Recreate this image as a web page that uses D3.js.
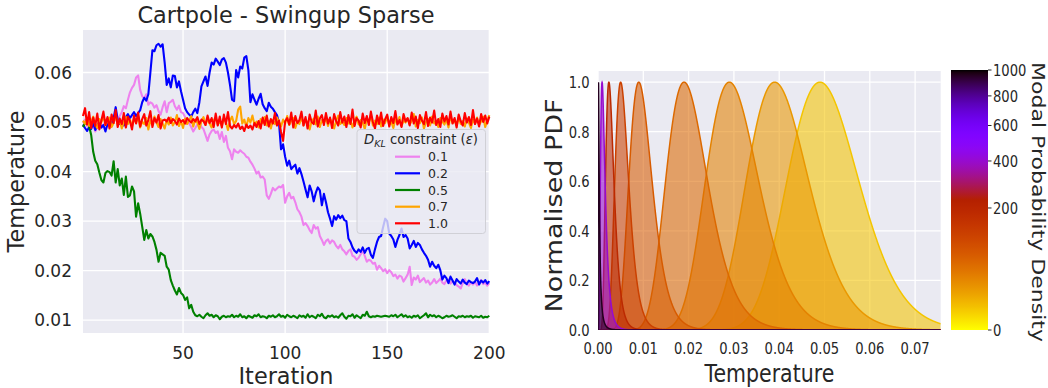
<!DOCTYPE html>
<html>
<head>
<meta charset="utf-8">
<script src="https://cdn.jsdelivr.net/npm/d3@7"></script>
<style>
  body { margin: 0; background: #ffffff; }
  text { font-family: "DejaVu Sans", sans-serif; fill: #262626; }
</style>
</head>
<body>
<svg id="fig" width="1048" height="388"></svg>
<script>
// ---------- Left panel: temperature per iteration for each KL constraint ----------
const iterations = d3.range(1, 201);

const temp_eps01 = [
.0498,.0505,.0492,.0500,.0487,.0495,.0481,.0490,.0497,.0488,.0494,.0502,.0491,.0499,.0505,.0498,.0508,.0503,.0512,.0520,
.0532,.0528,.0545,.0560,.0569,.0575,.0590,.0594,.0565,.0552,.0548,.0556,.0535,.0540,.0537,.0529,.0534,.0522,.0515,.0530,
.0542,.0520,.0538,.0541,.0545,.0532,.0525,.0533,.0520,.0518,.0510,.0501,.0497,.0490,.0481,.0488,.0495,.0499,.0490,.0486,
.0474,.0462,.0475,.0482,.0485,.0478,.0481,.0466,.0480,.0460,.0472,.0448,.0441,.0425,.0445,.0440,.0438,.0443,.0439,.0436,
.0430,.0428,.0420,.0414,.0406,.0396,.0400,.0388,.0390,.0384,.0352,.0345,.0355,.0367,.0362,.0366,.0370,.0368,.0373,.0337,
.0350,.0357,.0346,.0349,.0338,.0324,.0318,.0309,.0292,.0296,.0290,.0282,.0276,.0292,.0285,.0288,.0270,.0262,.0252,.0260,
.0263,.0255,.0261,.0258,.0250,.0245,.0252,.0243,.0239,.0233,.0240,.0243,.0230,.0228,.0222,.0226,.0233,.0240,.0230,.0218,
.0222,.0220,.0214,.0216,.0202,.0210,.0205,.0199,.0203,.0195,.0201,.0197,.0189,.0192,.0184,.0190,.0188,.0178,.0185,.0192,
.0208,.0171,.0186,.0182,.0190,.0177,.0181,.0185,.0176,.0180,.0172,.0176,.0183,.0175,.0179,.0184,.0176,.0173,.0180,.0182,
.0174,.0179,.0176,.0171,.0168,.0164,.0175,.0183,.0173,.0170,.0177,.0172,.0178,.0170,.0174,.0181,.0173,.0176,.0170,.0175
];

const temp_eps02 = [
.0495,.0488,.0482,.0490,.0486,.0498,.0484,.0493,.0500,.0489,.0494,.0481,.0496,.0502,.0497,.0508,.0530,.0505,.0496,.0500,
.0493,.0510,.0516,.0508,.0514,.0520,.0512,.0518,.0524,.0540,.0549,.0543,.0556,.0600,.0645,.0643,.0655,.0658,.0652,.0657,
.0620,.0575,.0588,.0570,.0594,.0593,.0570,.0582,.0562,.0545,.0528,.0520,.0515,.0511,.0520,.0527,.0518,.0540,.0572,.0582,
.0592,.0573,.0600,.0620,.0616,.0628,.0622,.0615,.0626,.0629,.0620,.0600,.0575,.0545,.0542,.0605,.0590,.0612,.0608,.0630,
.0633,.0605,.0540,.0556,.0545,.0535,.0547,.0557,.0536,.0528,.0522,.0539,.0531,.0527,.0520,.0514,.0498,.0445,.0455,.0430,
.0412,.0422,.0405,.0410,.0414,.0396,.0407,.0395,.0380,.0364,.0348,.0372,.0360,.0340,.0357,.0368,.0362,.0332,.0355,.0338,
.0318,.0305,.0290,.0310,.0303,.0312,.0306,.0311,.0302,.0300,.0265,.0258,.0247,.0240,.0236,.0243,.0238,.0247,.0236,.0244,
.0246,.0232,.0226,.0243,.0258,.0268,.0270,.0288,.0305,.0300,.0275,.0270,.0263,.0248,.0262,.0272,.0285,.0268,.0272,.0265,
.0245,.0252,.0260,.0248,.0256,.0252,.0243,.0236,.0230,.0222,.0208,.0218,.0210,.0205,.0212,.0201,.0182,.0190,.0185,.0175,
.0188,.0180,.0172,.0183,.0178,.0174,.0182,.0176,.0173,.0180,.0177,.0175,.0178,.0185,.0172,.0180,.0176,.0181,.0174,.0179
];

const temp_eps05 = [
.0490,.0498,.0505,.0492,.0474,.0440,.0422,.0415,.0398,.0383,.0378,.0397,.0401,.0399,.0392,.0421,.0378,.0405,.0372,.0386,
.0353,.0390,.0349,.0352,.0370,.0360,.0309,.0336,.0315,.0289,.0262,.0282,.0265,.0274,.0269,.0258,.0242,.0218,.0236,.0233,
.0230,.0208,.0202,.0181,.0170,.0160,.0152,.0165,.0155,.0151,.0141,.0146,.0124,.0131,.0117,.0110,.0108,.0111,.0107,.0104,
.0110,.0114,.0109,.0111,.0106,.0110,.0108,.0102,.0107,.0109,.0106,.0108,.0107,.0111,.0106,.0109,.0107,.0112,.0106,.0108,
.0104,.0109,.0107,.0105,.0110,.0108,.0112,.0106,.0108,.0107,.0104,.0109,.0107,.0110,.0106,.0108,.0112,.0107,.0109,.0105,
.0111,.0108,.0106,.0109,.0107,.0104,.0110,.0107,.0109,.0105,.0112,.0106,.0109,.0107,.0104,.0111,.0108,.0113,.0106,.0104,
.0109,.0107,.0110,.0106,.0108,.0105,.0110,.0114,.0107,.0103,.0109,.0108,.0112,.0105,.0110,.0107,.0104,.0111,.0109,.0117,
.0108,.0106,.0108,.0107,.0109,.0108,.0107,.0108,.0109,.0108,.0107,.0110,.0108,.0111,.0106,.0109,.0112,.0107,.0110,.0106,
.0108,.0105,.0109,.0107,.0110,.0104,.0107,.0110,.0114,.0106,.0111,.0108,.0110,.0106,.0109,.0107,.0104,.0106,.0109,.0107,
.0108,.0110,.0107,.0104,.0108,.0107,.0109,.0106,.0108,.0107,.0109,.0105,.0108,.0107,.0106,.0109,.0105,.0107,.0106,.0109
];

const temp_eps07 = [
.0503,.0497,.0508,.0492,.0501,.0511,.0495,.0488,.0506,.0499,.0513,.0494,.0502,.0509,.0490,.0498,.0515,.0493,.0504,.0487,
.0500,.0510,.0496,.0505,.0491,.0507,.0498,.0512,.0489,.0501,.0496,.0508,.0485,.0503,.0494,.0511,.0499,.0490,.0506,.0497,
.0487,.0504,.0495,.0509,.0493,.0500,.0514,.0492,.0502,.0488,.0507,.0496,.0503,.0512,.0491,.0505,.0499,.0486,.0501,.0510,
.0494,.0506,.0497,.0489,.0504,.0508,.0495,.0501,.0492,.0507,.0499,.0484,.0503,.0511,.0496,.0502,.0525,.0531,.0497,.0505,
.0490,.0508,.0499,.0513,.0494,.0501,.0489,.0506,.0498,.0510,.0493,.0502,.0487,.0504,.0496,.0509,.0500,.0491,.0505,.0497,
.0512,.0494,.0503,.0508,.0488,.0501,.0496,.0510,.0493,.0505,.0499,.0485,.0502,.0507,.0495,.0511,.0490,.0504,.0498,.0509,
.0492,.0506,.0500,.0487,.0503,.0513,.0496,.0501,.0494,.0508,.0497,.0505,.0489,.0502,.0511,.0495,.0504,.0499,.0486,.0507,
.0500,.0514,.0493,.0503,.0496,.0509,.0491,.0505,.0498,.0512,.0494,.0501,.0488,.0506,.0497,.0510,.0492,.0503,.0499,.0507,
.0495,.0502,.0516,.0491,.0504,.0498,.0509,.0487,.0500,.0506,.0493,.0511,.0497,.0503,.0490,.0508,.0501,.0495,.0505,.0489,
.0512,.0498,.0504,.0493,.0510,.0496,.0502,.0491,.0507,.0499,.0488,.0505,.0497,.0509,.0494,.0501,.0511,.0490,.0503,.0514
];

const temp_eps10 = [
.0512,.0528,.0495,.0520,.0488,.0509,.0492,.0517,.0485,.0503,.0521,.0494,.0510,.0487,.0515,.0498,.0524,.0490,.0507,.0496,
.0518,.0489,.0511,.0502,.0485,.0513,.0497,.0519,.0491,.0506,.0516,.0493,.0504,.0522,.0490,.0508,.0499,.0514,.0487,.0503,
.0505,.0501,.0509,.0498,.0506,.0502,.0495,.0507,.0500,.0504,.0497,.0508,.0503,.0499,.0506,.0501,.0510,.0496,.0505,.0502,
.0494,.0513,.0498,.0508,.0490,.0517,.0493,.0511,.0489,.0515,.0496,.0520,.0492,.0487,.0494,.0489,.0497,.0486,.0491,.0482,
.0495,.0488,.0493,.0485,.0498,.0490,.0502,.0487,.0509,.0494,.0513,.0491,.0506,.0497,.0518,.0493,.0503,.0480,.0462,.0501,
.0508,.0495,.0519,.0489,.0512,.0498,.0504,.0521,.0493,.0510,.0487,.0515,.0500,.0496,.0523,.0491,.0507,.0514,.0494,.0518,
.0497,.0509,.0488,.0516,.0502,.0493,.0520,.0499,.0511,.0490,.0514,.0496,.0525,.0492,.0508,.0503,.0489,.0517,.0498,.0512,
.0494,.0521,.0500,.0487,.0513,.0496,.0519,.0492,.0506,.0515,.0491,.0510,.0498,.0522,.0495,.0504,.0490,.0516,.0501,.0508,
.0493,.0519,.0497,.0511,.0488,.0514,.0503,.0496,.0520,.0492,.0509,.0499,.0523,.0494,.0506,.0490,.0517,.0501,.0512,.0495,
.0521,.0497,.0508,.0489,.0515,.0502,.0493,.0518,.0499,.0510,.0494,.0524,.0496,.0507,.0491,.0516,.0500,.0513,.0497,.0511
];

const constraintLabels = ["0.1", "0.2", "0.5", "0.7", "1.0"];
const constraintColors = ["violet", "blue", "green", "orange", "red"];
const temperatureSeries = [temp_eps01, temp_eps02, temp_eps05, temp_eps07, temp_eps10];
const iterationTicks = [50, 100, 150, 200];
const temperatureTicks = [0.01, 0.02, 0.03, 0.04, 0.05, 0.06];

// ---------- Right panel: normalised temperature PDFs ----------
const pdfModes = [0.049, 0.039, 0.029, 0.019, 0.009, 0.005, 0.0024, 0.0009, 0.0001];
const pdfSpreads = [0.16, 0.175, 0.20, 0.24, 0.28, 0.30, 0.38, 0.55, 1.0];
const modalDensities = [5, 20, 33, 55, 72, 118, 190, 400, 960];
const pdfTempTicks = [0, 0.01, 0.02, 0.03, 0.04, 0.05, 0.06, 0.07];
const pdfTickLabels = ["0.00", "0.01", "0.02", "0.03", "0.04", "0.05", "0.06", "0.07"];
const pdfValueTicks = [0, 0.2, 0.4, 0.6, 0.8, 1.0];
const densityTicks = [0, 200, 400, 600, 800, 1000];

const BG = "#eaeaf2";
const svg = d3.select("#fig");

// matplotlib "gnuplot" colormap
function gnuplot(t) {
  t = Math.max(0, Math.min(1, t));
  const r = Math.sqrt(t), g = t * t * t, b = Math.max(0, Math.sin(2 * Math.PI * t));
  return d3.rgb(r * 255, g * 255, b * 255).formatHex();
}
const densityNorm = d3.scalePow().exponent(0.47).domain([0, 1000]).range([0, 1]).clamp(true);
const densityColor = v => gnuplot(1 - densityNorm(v));

// ===== Left panel =====
const L = { left: 83, right: 489.3, top: 30, bottom: 333 };
const xL = d3.scaleLinear().domain([1, 200]).range([L.left, L.right]);
const yL = d3.scaleLinear().domain([0.00742, 0.06858]).range([L.bottom, L.top]);

const gL = svg.append("g");
gL.append("rect").attr("x", L.left).attr("y", L.top)
  .attr("width", L.right - L.left).attr("height", L.bottom - L.top).attr("fill", BG);

gL.append("g").selectAll("line").data(iterationTicks).join("line")
  .attr("x1", d => xL(d)).attr("x2", d => xL(d)).attr("y1", L.top).attr("y2", L.bottom)
  .attr("stroke", "#fff").attr("stroke-width", 1.3);
gL.append("g").selectAll("line").data(temperatureTicks).join("line")
  .attr("x1", L.left).attr("x2", L.right).attr("y1", d => yL(d)).attr("y2", d => yL(d))
  .attr("stroke", "#fff").attr("stroke-width", 1.3);

const lineL = d3.line().x((d, i) => xL(iterations[i])).y(d => yL(d));
gL.append("g").selectAll("path").data(temperatureSeries).join("path")
  .attr("d", d => lineL(d)).attr("fill", "none")
  .attr("stroke", (d, i) => constraintColors[i]).attr("stroke-width", 2.1)
  .attr("stroke-linejoin", "round");

// axes tick labels
gL.append("g").selectAll("text").data(iterationTicks).join("text")
  .attr("x", d => xL(d)).attr("y", 358.5).attr("text-anchor", "middle")
  .attr("font-size", 17).text(d => d);
gL.append("g").selectAll("text").data(temperatureTicks).join("text")
  .attr("x", 72).attr("y", d => yL(d) + 6).attr("text-anchor", "end")
  .attr("font-size", 17).text(d => d3.format(".2f")(d));

gL.append("text").attr("x", 286).attr("y", 383.5).attr("text-anchor", "middle")
  .attr("font-size", 22.4).text("Iteration");
gL.append("text").attr("transform", `translate(24,${(L.top + L.bottom) / 2}) rotate(-90)`)
  .attr("text-anchor", "middle").attr("font-size", 22.4).text("Temperature");
gL.append("text").attr("x", 286).attr("y", 23).attr("text-anchor", "middle")
  .attr("font-size", 22.4).text("Cartpole - Swingup Sparse");

// legend
const lg = gL.append("g");
lg.append("rect").attr("x", 357).attr("y", 129.5).attr("width", 128.5).attr("height", 104)
  .attr("rx", 3).attr("fill", BG).attr("fill-opacity", 0.8)
  .attr("stroke", "#d0d0d6").attr("stroke-width", 1);
const lt = lg.append("text").attr("x", 421).attr("y", 143.5).attr("text-anchor", "middle").attr("font-size", 13.2);
lt.append("tspan").attr("font-style", "italic").text("D");
lt.append("tspan").attr("font-style", "italic").attr("font-size", 9.5).attr("dy", 3).text("KL");
lt.append("tspan").attr("dy", -3).text(" constraint (");
lt.append("tspan").attr("font-style", "italic").text("ε");
lt.append("tspan").text(")");
const legendRows = [156.7, 173.3, 190, 206.7, 223.3];
lg.selectAll("line.entry").data(constraintLabels).join("line").attr("class", "entry")
  .attr("x1", 395).attr("x2", 420).attr("y1", (d, i) => legendRows[i]).attr("y2", (d, i) => legendRows[i])
  .attr("stroke", (d, i) => constraintColors[i]).attr("stroke-width", 2.2);
lg.selectAll("text.entry").data(constraintLabels).join("text").attr("class", "entry")
  .attr("x", 428).attr("y", (d, i) => legendRows[i] + 4.5).attr("font-size", 12.5).text(d => d);

// ===== Right panel =====
const R = { left: 598, right: 940.7, top: 71, bottom: 330 };
const xR = d3.scaleLinear().domain([0, 0.07565]).range([R.left, R.right]);
const yR = d3.scaleLinear().domain([0, 1.045]).range([R.bottom, R.top]);
const SX = 0.82; // horizontal squeeze of the panel's lettering

const gR = svg.append("g");
gR.append("rect").attr("x", R.left).attr("y", R.top)
  .attr("width", R.right - R.left).attr("height", R.bottom - R.top).attr("fill", BG);
gR.append("g").selectAll("line").data(pdfTempTicks).join("line")
  .attr("x1", d => xR(d)).attr("x2", d => xR(d)).attr("y1", R.top).attr("y2", R.bottom)
  .attr("stroke", "#fff").attr("stroke-width", 1.3);
gR.append("g").selectAll("line").data(pdfValueTicks).join("line")
  .attr("x1", R.left).attr("x2", R.right).attr("y1", d => yR(d)).attr("y2", d => yR(d))
  .attr("stroke", "#fff").attr("stroke-width", 1.3);

// sample positions along the temperature axis
const tGrid = [0].concat(d3.range(1, 3784).map(k => k * 0.00002));
function bump(t, mode, s) {
  if (t <= 0) return 0;
  const z = Math.log(t / mode) / s;
  return Math.exp(-0.5 * z * z);
}
const clipR = svg.append("defs").append("clipPath").attr("id", "clipR");
clipR.append("rect").attr("x", R.left).attr("y", R.top).attr("width", R.right - R.left).attr("height", R.bottom - R.top);

const area = d3.area().x(d => xR(d[0])).y0(yR(0)).y1(d => yR(d[1]));
const lineR = d3.line().x(d => xR(d[0])).y(d => yR(d[1]));
const pdfG = gR.append("g").attr("clip-path", "url(#clipR)");
pdfModes.forEach((m, i) => {
  const pts = tGrid.map(t => [t, bump(t, m, pdfSpreads[i])]);
  const c = densityColor(modalDensities[i]);
  pdfG.append("path").attr("d", area(pts)).attr("fill", c).attr("fill-opacity", 0.58);
  pdfG.append("path").attr("d", lineR(pts)).attr("fill", "none").attr("stroke", c).attr("stroke-width", 1.5);
});

function squeezed(g, x, y, txt, size, anchor, rot) {
  return g.append("text")
    .attr("transform", `translate(${x},${y}) scale(${SX},1)` + (rot ? ` rotate(${rot})` : ""))
    .attr("text-anchor", anchor).attr("font-size", size).text(txt);
}
pdfTempTicks.forEach((d, i) => squeezed(gR, xR(d), 353.5, pdfTickLabels[i], 16, "middle"));
pdfValueTicks.forEach(d => squeezed(gR, 589.5, yR(d) + 5.8, d3.format(".1f")(d), 16, "end"));
squeezed(gR, (R.left + R.right) / 2, 381.5, "Temperature", 25, "middle");
squeezed(gR, 562, (R.top + R.bottom) / 2 + 5, "Normalised PDF", 27, "middle", -90);

// colour bar
const CB = { left: 951, right: 988, top: 70, bottom: 330 };
const grad = svg.select("defs").append("linearGradient").attr("id", "cbGrad")
  .attr("x1", 0).attr("y1", 0).attr("x2", 0).attr("y2", 1);
d3.range(0, 101).forEach(k => {
  const o = k / 100;
  grad.append("stop").attr("offset", o).attr("stop-color", gnuplot(o));
});
const yCB = d3.scalePow().exponent(0.47).domain([0, 1000]).range([CB.bottom, CB.top]);
gR.append("rect").attr("x", CB.left).attr("y", CB.top).attr("width", CB.right - CB.left)
  .attr("height", CB.bottom - CB.top).attr("fill", "url(#cbGrad)");
gR.append("g").selectAll("line").data(densityTicks).join("line")
  .attr("x1", CB.right).attr("x2", CB.right + 3.5).attr("y1", d => yCB(d)).attr("y2", d => yCB(d))
  .attr("stroke", "#262626").attr("stroke-width", 1);
densityTicks.forEach(d => squeezed(gR, 993, yCB(d) + 5.8, String(d), 16, "start"));
squeezed(gR, 1032, (CB.top + CB.bottom) / 2 + 2, "Modal Probability Density", 22, "middle", 90);
</script>
</body>
</html>
